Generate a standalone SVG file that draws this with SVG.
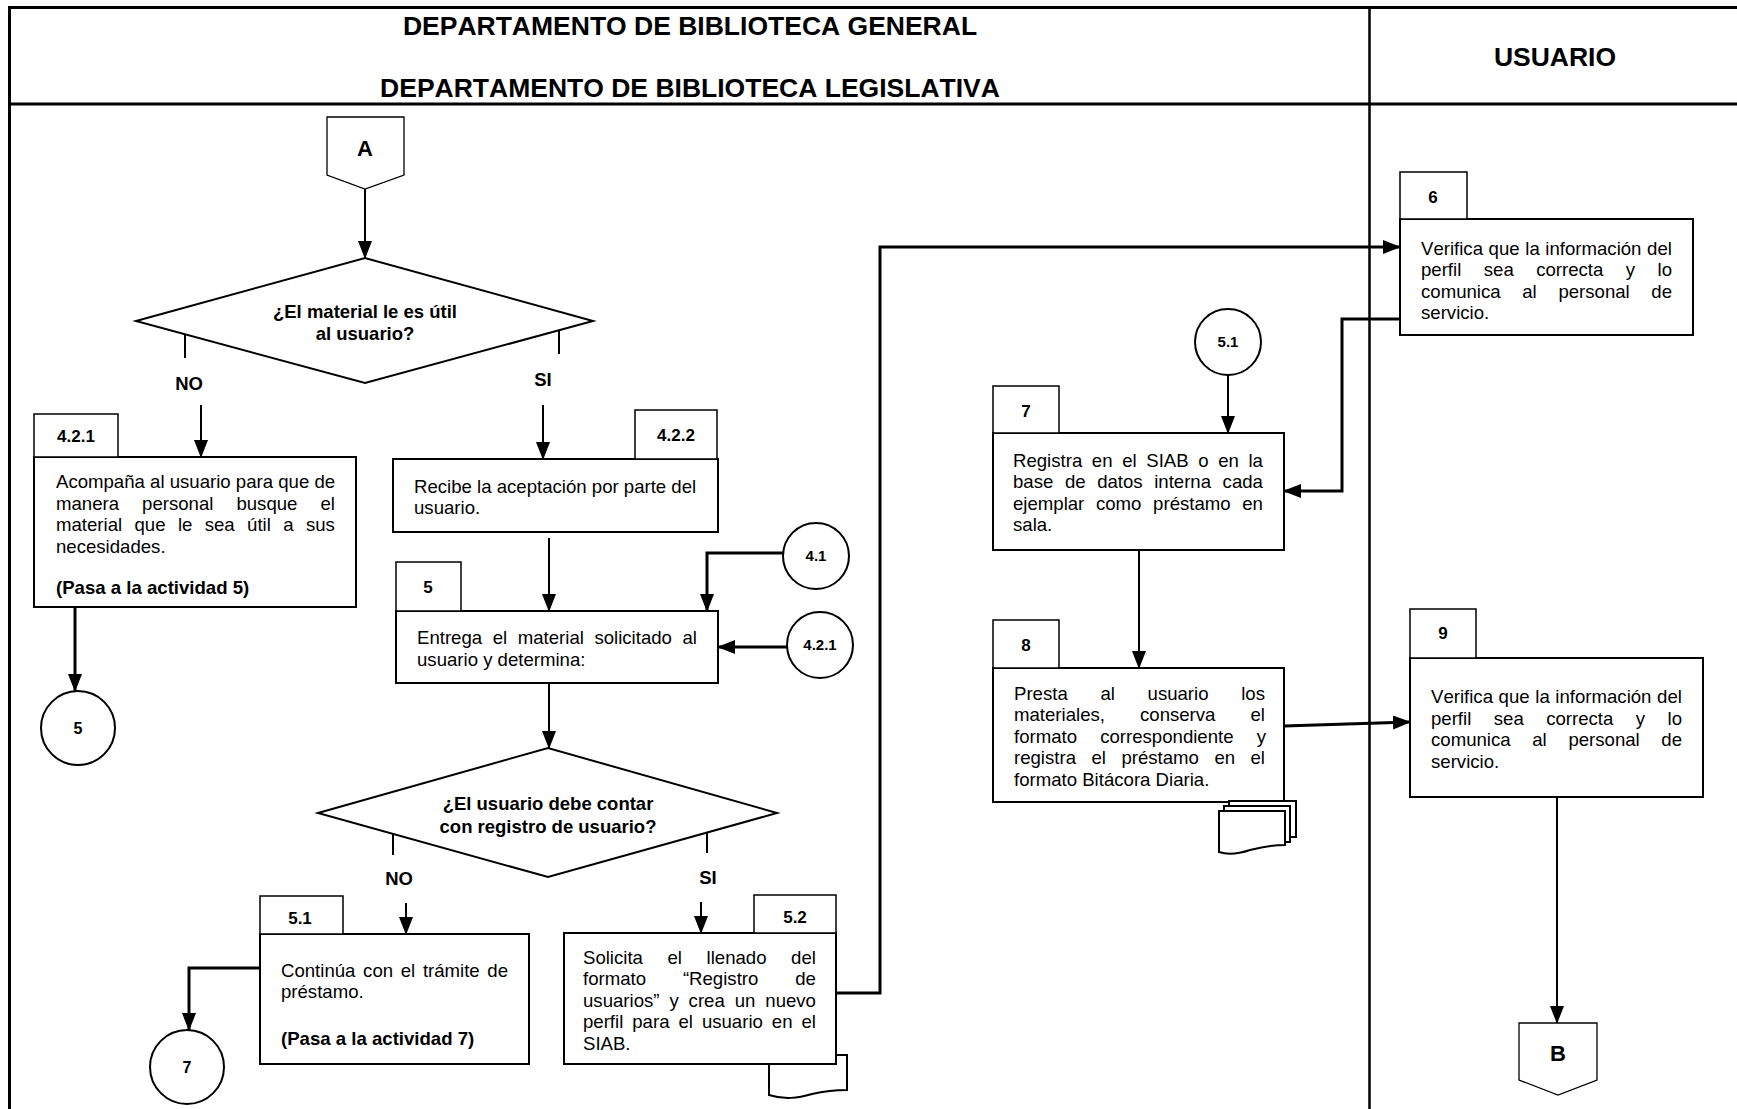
<svg xmlns="http://www.w3.org/2000/svg" width="1737" height="1109" viewBox="0 0 1737 1109">
<defs>
<style>
text{font-family:"Liberation Sans",Arial,sans-serif;fill:#000;font-kerning:none}
.t{font-size:26.5px;font-weight:bold;text-anchor:middle}
.b{font-size:18.6px}
.lb{font-size:18.5px;font-weight:bold;text-anchor:middle}
.tb{font-size:17px;font-weight:bold;text-anchor:middle}
.cl{font-size:15px;font-weight:bold;text-anchor:middle}
.box{fill:#fff;stroke:#000;stroke-width:2}
.tab{fill:#fff;stroke:#000;stroke-width:1.5}
.dia{fill:#fff;stroke:#000;stroke-width:2}
.cir{fill:#fff;stroke:#000;stroke-width:2}
.off{fill:#fff;stroke:#000;stroke-width:1.3}
.doc{fill:#fff;stroke:#000;stroke-width:2}
.c1{fill:none;stroke:#000;stroke-width:2}
.c2{fill:none;stroke:#000;stroke-width:3}
.frame{fill:none;stroke:#000;stroke-width:3}
</style>
<marker id="ah" markerUnits="userSpaceOnUse" markerWidth="18" markerHeight="14" refX="17" refY="7" orient="auto"><path d="M0,0 L18,7 L0,14 z" fill="#000"/></marker>
</defs>
<rect width="1737" height="1109" fill="#fff"/>
<g id="frame">
<path class="frame" d="M9.5,1112 V7.5 H1740"/>
<path class="frame" d="M9.5,104 H1740"/>
<path class="frame" d="M1369.5,7 V1112" style="stroke-width:2.5"/>
<text class="t" x="690" y="35">DEPARTAMENTO DE BIBLIOTECA GENERAL</text>
<text class="t" x="690" y="97">DEPARTAMENTO DE BIBLIOTECA LEGISLATIVA</text>
<text class="t" x="1555" y="66">USUARIO</text>
</g>
<g id="connectors">
<path class="c1" d="M365,189 V258" marker-end="url(#ah)"/>
<path class="c1" d="M185,334 V358"/>
<path class="c1" d="M559,330 V354"/>
<path class="c1" d="M201,405 V457" marker-end="url(#ah)"/>
<path class="c1" d="M543,405 V459" marker-end="url(#ah)"/>
<path class="c2" d="M75,607 V691" marker-end="url(#ah)"/>
<path class="c1" d="M549,538 V611" marker-end="url(#ah)"/>
<path class="c2" d="M783,553 H707 V611" marker-end="url(#ah)"/>
<path class="c2" d="M787,647 H718" marker-end="url(#ah)"/>
<path class="c1" d="M549,683 V748" marker-end="url(#ah)"/>
<path class="c1" d="M393,834 V855"/>
<path class="c1" d="M707,833 V853"/>
<path class="c1" d="M406,903 V934" marker-end="url(#ah)"/>
<path class="c1" d="M701,902 V933" marker-end="url(#ah)"/>
<path class="c2" d="M260,968 H189 V1030" marker-end="url(#ah)"/>
<path class="c2" d="M836,993 H880 V247 H1400" marker-end="url(#ah)"/>
<path class="c2" d="M1400,319 H1342 V491 H1284" marker-end="url(#ah)"/>
<path class="c1" d="M1228,375 V433" marker-end="url(#ah)"/>
<path class="c1" d="M1139,550 V668" marker-end="url(#ah)"/>
<path class="c2" d="M1284,726 L1410,722" marker-end="url(#ah)"/>
<path class="c1" d="M1557,797 V1023" marker-end="url(#ah)"/>
<text class="lb" x="189" y="389.5">NO</text>
<text class="lb" x="543" y="385.5">SI</text>
<text class="lb" x="399" y="884.5">NO</text>
<text class="lb" x="708" y="883.5">SI</text>
</g>
<g id="nodeA">
<polygon class="off" points="327,117 404,117 404,175 365,189 327,175"/>
<text class="lb" x="365" y="156" style="font-size:22px">A</text>
</g>
<g id="dec1">
<polygon class="dia" points="136,321 365,258 593,321 365,383"/>
<text class="lb" x="365" y="317.5">¿El material le es útil</text>
<text class="lb" x="365" y="339.5">al usuario?</text>
</g>
<g id="act421">
<rect class="box" x="34" y="457" width="322" height="150"/>
<rect class="tab" x="34" y="414" width="84" height="43"/>
<text class="tb" x="76" y="442">4.2.1</text>
<text class="b" x="56" y="488">Acompaña al usuario para que de</text>
<text class="b" x="56" y="509.5" word-spacing="17.87">manera personal busque el</text>
<text class="b" x="56" y="531" word-spacing="7.2">material que le sea útil a sus</text>
<text class="b" x="56" y="552.5">necesidades.</text>
<text class="b" x="56" y="594" font-weight="bold">(Pasa a la actividad 5)</text>
</g>
<g id="act422">
<rect class="box" x="393" y="459" width="325" height="73"/>
<rect class="tab" x="635" y="410" width="82" height="49"/>
<text class="tb" x="676" y="441">4.2.2</text>
<text class="b" x="414" y="492.5">Recibe la aceptación por parte del</text>
<text class="b" x="414" y="514">usuario.</text>
</g>
<g id="conn5">
<circle class="cir" cx="78" cy="728" r="37"/>
<text class="lb" x="78" y="734" style="font-size:16px">5</text>
</g>
<g id="conn41">
<circle class="cir" cx="816" cy="556" r="33"/>
<text class="cl" x="816" y="561">4.1</text>
</g>
<g id="conn421">
<circle class="cir" cx="820" cy="645" r="33"/>
<text class="cl" x="820" y="650">4.2.1</text>
</g>
<g id="act5">
<rect class="box" x="396" y="611" width="322" height="72"/>
<rect class="tab" x="396" y="562" width="65" height="49"/>
<text class="tb" x="428" y="593">5</text>
<text class="b" x="417" y="643.5" word-spacing="5.4">Entrega el material solicitado al</text>
<text class="b" x="417" y="665.5">usuario y determina:</text>
</g>
<g id="dec2">
<polygon class="dia" points="318,813 548,748 777,813 548,877"/>
<text class="lb" x="548" y="809.5">¿El usuario debe contar</text>
<text class="lb" x="548" y="832.5">con registro de usuario?</text>
</g>
<g id="act51">
<rect class="box" x="260" y="934" width="269" height="130"/>
<rect class="tab" x="260" y="896" width="83" height="38"/>
<text class="tb" x="300" y="924">5.1</text>
<text class="b" x="281" y="977" word-spacing="2.5">Continúa con el trámite de</text>
<text class="b" x="281" y="998">préstamo.</text>
<text class="b" x="281" y="1045" font-weight="bold">(Pasa a la actividad 7)</text>
</g>
<g id="conn7">
<circle class="cir" cx="187" cy="1067" r="37"/>
<text class="lb" x="187" y="1073" style="font-size:16px">7</text>
</g>
<g id="act52">
<path class="doc" d="M769,1055 H847 V1090 C835,1090 825,1091 812,1094 C798,1098 785,1100 769,1095 Z"/>
<rect class="box" x="564" y="933" width="272" height="131"/>
<rect class="tab" x="754" y="895" width="82" height="38"/>
<text class="tb" x="795" y="923">5.2</text>
<text class="b" x="583" y="963.5" word-spacing="19.4">Solicita el llenado del</text>
<text class="b" x="583" y="985" word-spacing="31.7">formato “Registro de</text>
<text class="b" x="583" y="1006.5" word-spacing="4.75">usuarios” y crea un nuevo</text>
<text class="b" x="583" y="1028" word-spacing="3.8">perfil para el usuario en el</text>
<text class="b" x="583" y="1049.5">SIAB.</text>
</g>
<g id="act6">
<rect class="box" x="1400" y="219" width="293" height="116"/>
<rect class="tab" x="1400" y="172" width="67" height="47"/>
<text class="tb" x="1433" y="203">6</text>
<text class="b" x="1421" y="254.5" word-spacing="0.45">Verifica que la información del</text>
<text class="b" x="1421" y="276" word-spacing="17.3">perfil sea correcta y lo</text>
<text class="b" x="1421" y="297.5" word-spacing="16.5">comunica al personal de</text>
<text class="b" x="1421" y="319">servicio.</text>
</g>
<g id="conn51">
<circle class="cir" cx="1228" cy="342" r="33"/>
<text class="cl" x="1228" y="347">5.1</text>
</g>
<g id="act7">
<rect class="box" x="993" y="433" width="291" height="117"/>
<rect class="tab" x="993" y="386" width="66" height="47"/>
<text class="tb" x="1026" y="417">7</text>
<text class="b" x="1013" y="466.5" word-spacing="4.45">Registra en el SIAB o en la</text>
<text class="b" x="1013" y="488" word-spacing="6.4">base de datos interna cada</text>
<text class="b" x="1013" y="509.5" word-spacing="6.5">ejemplar como préstamo en</text>
<text class="b" x="1013" y="531">sala.</text>
</g>
<g id="act8">
<rect class="box" x="993" y="668" width="291" height="134"/>
<rect class="tab" x="993" y="620" width="66" height="48"/>
<text class="tb" x="1026" y="651">8</text>
<text class="b" x="1014" y="699.5" word-spacing="27.5">Presta al usuario los</text>
<text class="b" x="1014" y="721" word-spacing="29.9">materiales, conserva el</text>
<text class="b" x="1014" y="742.5" word-spacing="18">formato correspondiente y</text>
<text class="b" x="1014" y="764" word-spacing="10.3">registra el préstamo en el</text>
<text class="b" x="1014" y="785.5">formato Bitácora Diaria.</text>
<path class="doc" d="M1229,801 H1296 V837 H1229 Z"/>
<path class="doc" d="M1224,806 H1290 V842 H1224 Z"/>
<path class="doc" d="M1219,811 H1285 V845 C1272,845 1262,847 1250,850 C1238,854 1228,855 1219,852 Z"/>
</g>
<g id="act9">
<rect class="box" x="1410" y="658" width="293" height="139"/>
<rect class="tab" x="1410" y="609" width="66" height="49"/>
<text class="tb" x="1443" y="639">9</text>
<text class="b" x="1431" y="703" word-spacing="0.45">Verifica que la información del</text>
<text class="b" x="1431" y="724.5" word-spacing="17.3">perfil sea correcta y lo</text>
<text class="b" x="1431" y="746" word-spacing="16.5">comunica al personal de</text>
<text class="b" x="1431" y="767.5">servicio.</text>
</g>
<g id="nodeB">
<polygon class="off" points="1519,1023 1597,1023 1597,1080 1558,1095 1519,1080"/>
<text class="lb" x="1558" y="1061" style="font-size:22px">B</text>
</g>
</svg>
